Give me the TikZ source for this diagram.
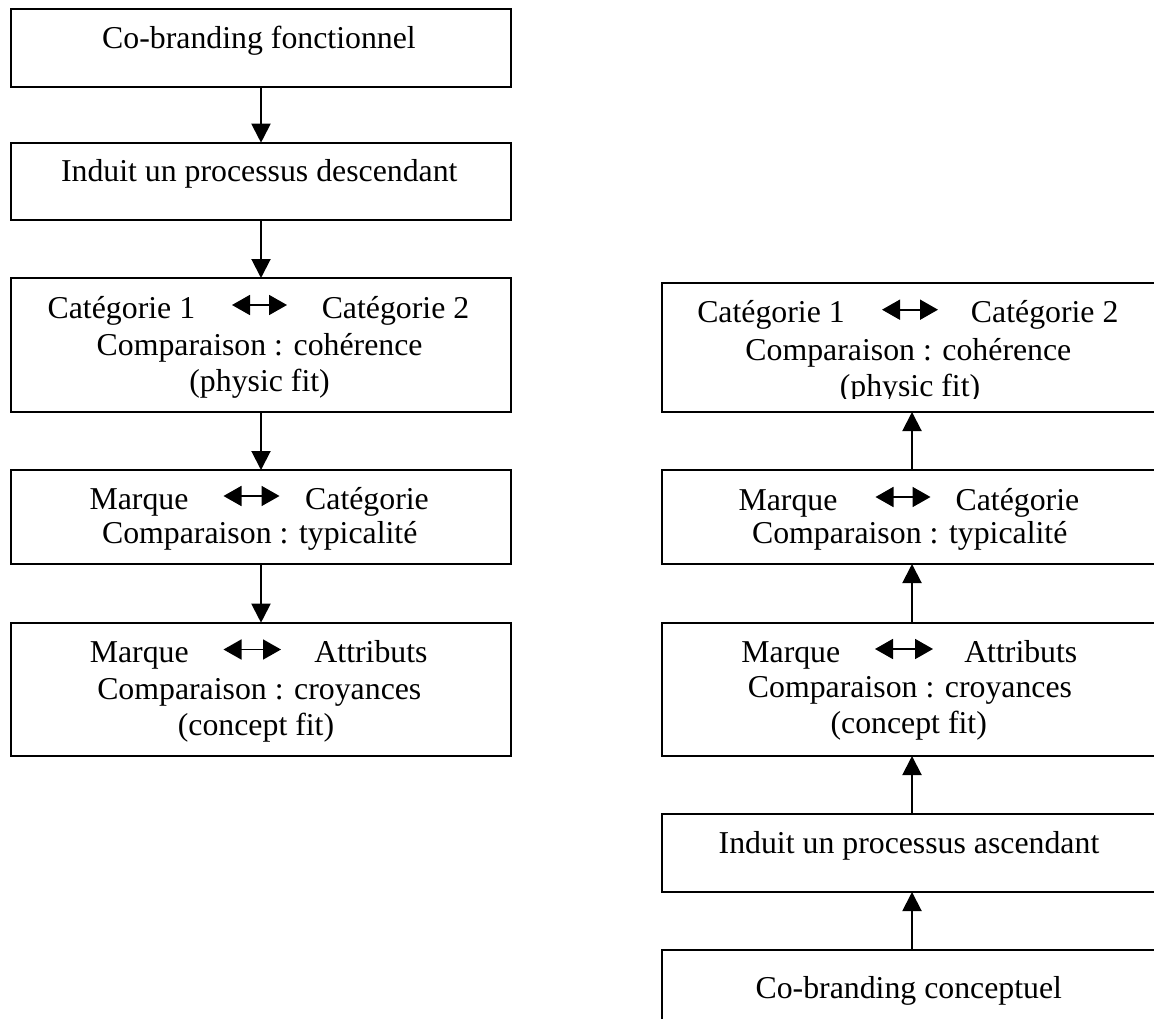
\documentclass[tikz,border=0pt]{standalone}
\usepackage{fontspec}
\setmainfont{Liberation Serif}
\usetikzlibrary{arrows.meta}
\begin{document}
\begin{tikzpicture}[x=1pt,y=-1pt,
  box/.style={draw, line width=2pt, rectangle, inner sep=0pt, outer sep=0pt, minimum width=500pt},
  txt/.style={anchor=base, inner sep=0pt, font=\fontsize{31.8}{38}\selectfont},
  flow/.style={line width=2pt, -{Triangle[length=19pt,width=19pt]}},
  pair/.style={line width=1.8pt, {Triangle[length=18pt,width=20pt]}-{Triangle[length=18pt,width=20pt]}}]
\useasboundingbox (0,0) rectangle (1154,1019);
\clip (0,0) rectangle (1154,1019);

% ---- left column: descending process ----
\node[box, minimum height=77.4pt] (l1) at (261,48) {};
\node[box, minimum height=77.3pt] (l2) at (261,181.35) {};
\node[box, minimum height=134pt]  (l3) at (261,345) {};
\node[box, minimum height=94pt]   (l4) at (261,517) {};
\node[box, minimum height=132.8pt] (l5) at (261,689.1) {};

\node[txt] (l1t) at (259,48.5) {Co-branding fonctionnel};
\node[txt] (l2t) at (259.3,181.7) {Induit un processus descendant};

\node[txt] (l3a) at (121.4,318) {Catégorie 1};
\node[txt] (l3b) at (395.5,318) {Catégorie 2};
\node[txt] (l3c) at (259.6,355) {Comparaison : cohérence};
\node[txt] (l3d) at (259.6,391.5) {(physic fit)};
\coordinate (l3p) at (232,305);
\coordinate (l3q) at (287,305);

\node[txt] (l4a) at (139,509) {Marque};
\node[txt] (l4b) at (367,509) {Catégorie};
\node[txt] (l4c) at (259.7,543.5) {Comparaison : typicalité};
\coordinate (l4p) at (223.5,496);
\coordinate (l4q) at (279.5,496);

\node[txt] (l5a) at (139.3,662.5) {Marque};
\node[txt] (l5b) at (371,662.5) {Attributs};
\node[txt] (l5c) at (259.3,699) {Comparaison : croyances};
\node[txt] (l5d) at (256,735) {(concept fit)};
\coordinate (l5p) at (223.5,649.5);
\coordinate (l5q) at (281,649.5);

\draw[flow] (l1.south) -- (l2.north);
\draw[flow] (l2.south) -- (l3.north);
\draw[flow] (l3.south) -- (l4.north);
\draw[flow] (l4.south) -- (l5.north);

\draw[pair] (l3p) -- (l3q);
\draw[pair] (l4p) -- (l4q);
\draw[pair] (l5p) -- (l5q);

% ---- right column: ascending process ----
\node[box, minimum height=128.7pt] (r1) at (912,347.65) {};
\node[box, minimum height=94pt]    (r2) at (912,517) {};
\node[box, minimum height=133.3pt] (r3) at (912,689.35) {};
\node[box, minimum height=78pt]    (r4) at (912,853) {};
\node[box, minimum height=77pt]    (r5) at (912,988.5) {};

\node[txt] (r1a) at (771,322.7) {Catégorie 1};
\node[txt] (r1b) at (1044.7,322.7) {Catégorie 2};
\node[txt] (r1c) at (908.4,360) {Comparaison : cohérence};
\begin{scope}
  \clip (662,283) rectangle (1154,398.5);
  \node[txt] (r1d) at (910,396.5) {(physic fit)};
\end{scope}
\coordinate (r1p) at (882,309.7);
\coordinate (r1q) at (938,309.7);

\node[txt] (r2a) at (788,510) {Marque};
\node[txt] (r2b) at (1017.4,510) {Catégorie};
\node[txt] (r2c) at (909.7,543.5) {Comparaison : typicalité};
\coordinate (r2p) at (875.5,497);
\coordinate (r2q) at (930.5,497);

\node[txt] (r3a) at (790.8,662) {Marque};
\node[txt] (r3b) at (1020.8,662) {Attributs};
\node[txt] (r3c) at (910,697) {Comparaison : croyances};
\node[txt] (r3d) at (908.7,733.5) {(concept fit)};
\coordinate (r3p) at (875,649);
\coordinate (r3q) at (933,649);

\node[txt] (r4t) at (909,853) {Induit un processus ascendant};
\node[txt] (r5t) at (908.8,998) {Co-branding conceptuel};

\draw[flow] (r5.north) -- (r4.south);
\draw[flow] (r4.north) -- (r3.south);
\draw[flow] (r3.north) -- (r2.south);
\draw[flow] (r2.north) -- (r1.south);

\draw[pair] (r1p) -- (r1q);
\draw[pair] (r2p) -- (r2q);
\draw[pair] (r3p) -- (r3q);
\end{tikzpicture}
\end{document}
